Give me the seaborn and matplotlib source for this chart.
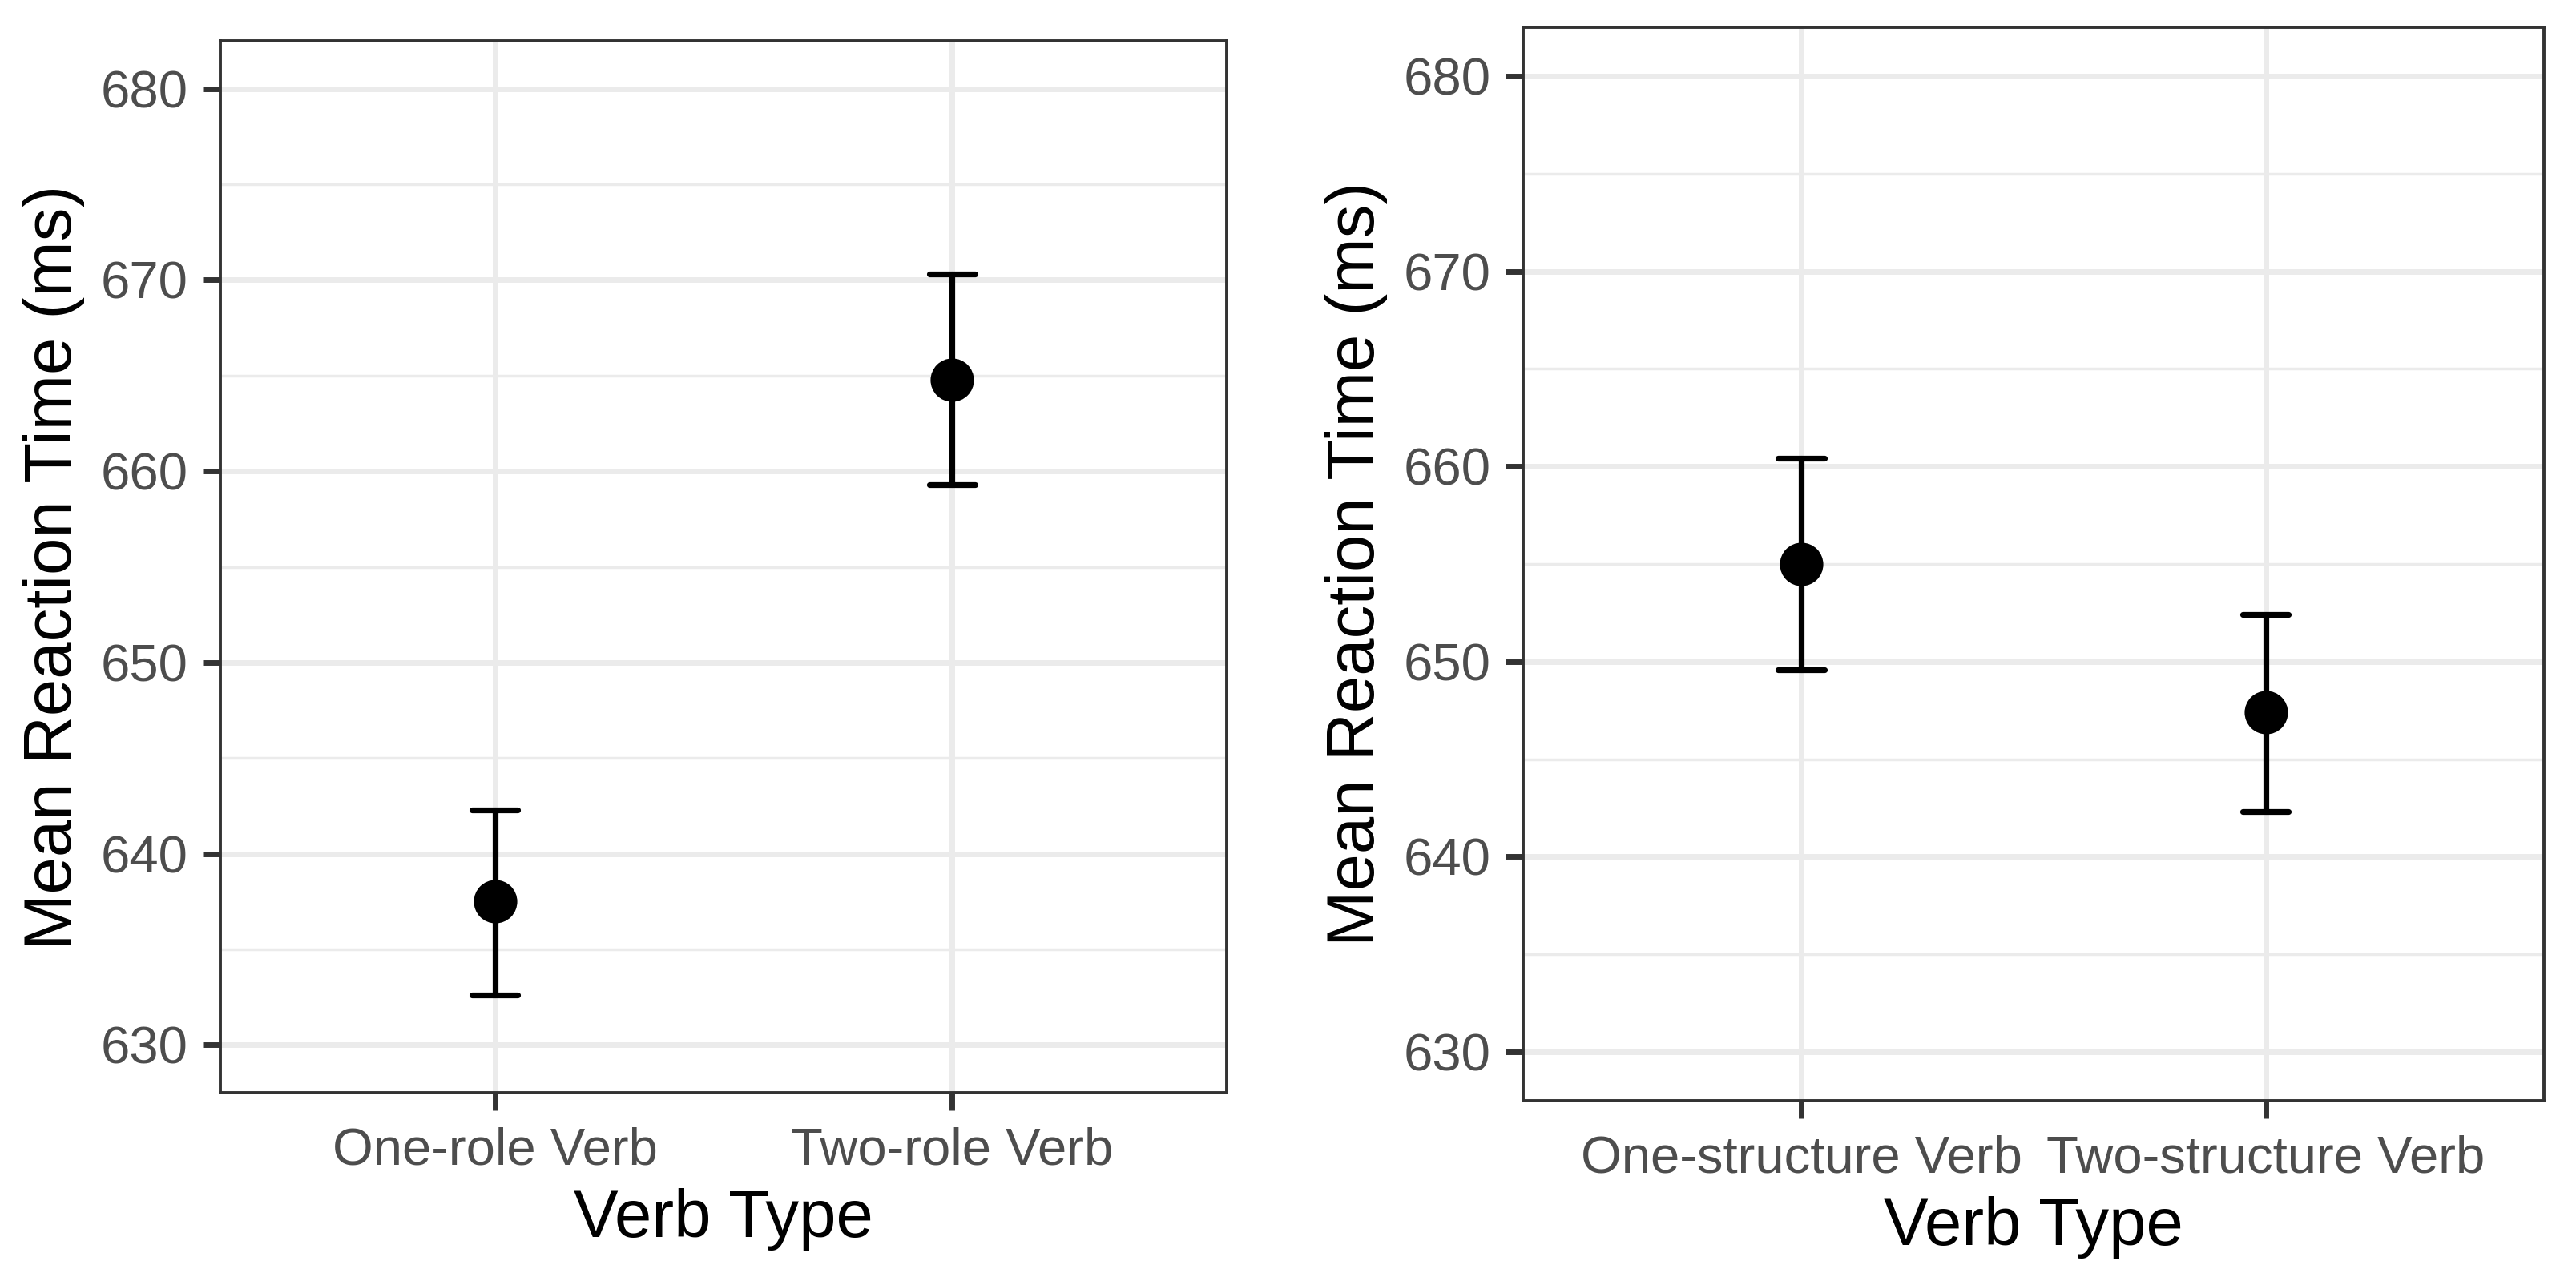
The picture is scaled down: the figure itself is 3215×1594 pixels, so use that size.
import matplotlib
matplotlib.use("Agg")
import matplotlib.pyplot as plt
from matplotlib.ticker import MultipleLocator, FixedLocator
import numpy as np
import pandas as pd
import seaborn as sns

# ---------------- data ----------------
left_categories = ["One-role Verb", "Two-role Verb"]
left_means = [637.5, 664.8]
left_lower = [632.6, 659.3]
left_upper = [642.3, 670.3]

right_categories = ["One-structure Verb", "Two-structure Verb"]
right_means = [655.0, 647.4]
right_lower = [649.6, 642.3]
right_upper = [660.4, 652.4]

y_ticks = [630, 640, 650, 660, 670, 680]
x_title = "Verb Type"
y_title = "Mean Reaction Time (ms)"

# ---------------- style ----------------
sns.set_theme(style="white")
plt.rcParams["font.family"] = ["Liberation Sans", "DejaVu Sans"]

W, H, DPI = 3216, 1594, 200
fig = plt.figure(figsize=(W / DPI, H / DPI), dpi=DPI)
fig.patch.set_facecolor("white")

GRID = "#EBEBEB"
DARK = "#333333"
TICKTXT = "#4D4D4D"


def make_df(cats, lo, mid, hi):
    rows = []
    for c, a, m, b in zip(cats, lo, mid, hi):
        for v in (a, m, b):
            rows.append({"cat": c, "val": v})
    return pd.DataFrame(rows)


def panel(rect_px, cats, lo, mid, hi):
    x0, y0, x1, y1 = rect_px
    ax = fig.add_axes([x0 / W, 1 - y1 / H, (x1 - x0) / W, (y1 - y0) / H])
    df = make_df(cats, lo, mid, hi)
    sns.pointplot(
        data=df, x="cat", y="val", order=cats,
        estimator="median", errorbar=("pi", 100),
        capsize=0.1, color="black", linestyle="none",
        marker="o", markersize=19.5, markeredgewidth=0,
        err_kws={"linewidth": 2.6, "color": "black"},
        ax=ax,
    )
    ax.set_xlim(-0.6, len(cats) - 1 + 0.6)
    ax.set_ylim(627.5, 682.5)
    ax.yaxis.set_major_locator(FixedLocator(y_ticks))
    ax.yaxis.set_minor_locator(MultipleLocator(5))
    ax.set_axisbelow(True)
    ax.grid(which="major", axis="both", color=GRID, linewidth=2.5)
    ax.grid(which="minor", axis="y", color=GRID, linewidth=1.25)
    for s in ax.spines.values():
        s.set_visible(True)
        s.set_color(DARK)
        s.set_linewidth(1.4)
    ax.tick_params(which="major", axis="both", length=7.9, width=2.5,
                   color=DARK, labelcolor=TICKTXT, labelsize=23.5,
                   left=True, bottom=True)
    ax.tick_params(axis="y", pad=6.8)
    ax.tick_params(axis="x", pad=7.5)
    ax.tick_params(which="minor", length=0)
    ax.set_xlabel(x_title, fontsize=30, color="black", labelpad=6)
    ax.set_ylabel(y_title, fontsize=30, color="black", labelpad=7)
    ax.set_facecolor("white")
    return ax


panel((275, 51, 1531, 1364), left_categories, left_lower, left_means, left_upper)
panel((1901, 34, 3175, 1374), right_categories, right_lower, right_means, right_upper)

fig.savefig("out.png", dpi=DPI, facecolor="white")
